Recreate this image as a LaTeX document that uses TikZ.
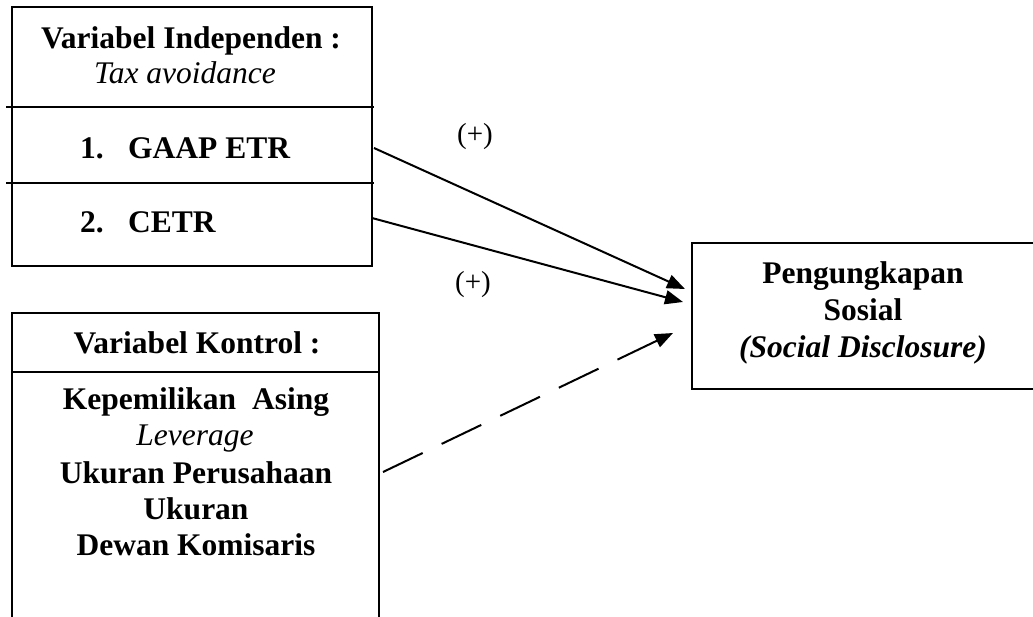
\documentclass[tikz,border=0pt]{standalone}
\usepackage{fontspec}
\setmainfont{Liberation Serif}
\usetikzlibrary{arrows.meta}
\tikzset{
  box/.style={draw, line width=2pt, rectangle, inner sep=0pt},
  openbox/.style={rectangle, inner sep=0pt},
  divider/.style={line width=2pt},
  txt/.style={anchor=base, inner sep=0pt, font=\fontsize{31.5}{36.5}\selectfont\bfseries},
  itxt/.style={anchor=base, inner sep=0pt, font=\fontsize{31.5}{36.5}\selectfont\itshape},
  bitxt/.style={anchor=base, inner sep=0pt, font=\fontsize{31.5}{36.5}\selectfont\bfseries\itshape},
  sign/.style={inner sep=0pt, font=\fontsize{29}{34}\selectfont},
  conn/.style={line width=2pt, -{Triangle[length=18pt,width=14pt]}},
  dconn/.style={conn, dash pattern=on 44pt off 21pt},
}
\begin{document}
\begin{tikzpicture}[x=1pt, y=-1pt]
\path[use as bounding box, clip] (0,0) rectangle (1033,616);

% Independent variable box
\node[box, minimum width=360pt, minimum height=259pt] (indep) at (192,136.5) {};
\coordinate (d1l) at (6,107);  \coordinate (d1r) at (374,107);
\coordinate (d2l) at (6,183);  \coordinate (d2r) at (374,183);
\draw[divider] (d1l) -- (d1r);
\draw[divider] (d2l) -- (d2r);
\node[txt] (t1) at (191,48) {Variabel Independen :};
\node[itxt] (t2) at (185,83) {Tax avoidance};
\node[txt, anchor=base west] (n1) at (80,158) {1.};
\node[txt, anchor=base west] (g1) at (128,158) {GAAP ETR};
\node[txt, anchor=base west] (n2) at (80,232) {2.};
\node[txt, anchor=base west] (g2) at (128,232) {CETR};

% Control variable box
\node[box, minimum width=367pt, minimum height=330pt] (kontrol) at (195.5,478) {};
\coordinate (k1l) at (12,372); \coordinate (k1r) at (379,372);
\draw[divider] (k1l) -- (k1r);
\node[txt] (k0) at (197,353) {Variabel Kontrol :};
\node[txt] (k1) at (196,409) {Kepemilikan\ \ Asing};
\node[itxt] (k2) at (195,445) {Leverage};
\node[txt] (k3) at (196,483) {Ukuran Perusahaan};
\node[txt] (k4) at (196,519) {Ukuran};
\node[txt] (k5) at (196,555) {Dewan Komisaris};

% Dependent variable box (its right side lies beyond the picture's edge)
\node[openbox, minimum width=352pt, minimum height=146pt] (dep) at (868,316) {};
\draw[divider] (dep.north east) -- (dep.north west) -- (dep.south west) -- (dep.south east);
\node[txt] (p1) at (863,283) {Pengungkapan};
\node[txt] (p2) at (863,320) {Sosial};
\node[bitxt] (p3) at (863,357) {(Social Disclosure)};

% Connectors
\coordinate (a1s) at (374,148); \coordinate (a1e) at (685,289);
\coordinate (a2s) at (372,218); \coordinate (a2e) at (683,302);
\coordinate (a3s) at (383,472); \coordinate (a3e) at (673,333);
\draw[conn] (a1s) -- (a1e);
\draw[conn] (a2s) -- (a2e);
\draw[dconn] (a3s) -- (a3e);

\node[sign] (s1) at (475,137) {(+)};
\node[sign] (s2) at (473,285) {(+)};
\end{tikzpicture}
\end{document}
